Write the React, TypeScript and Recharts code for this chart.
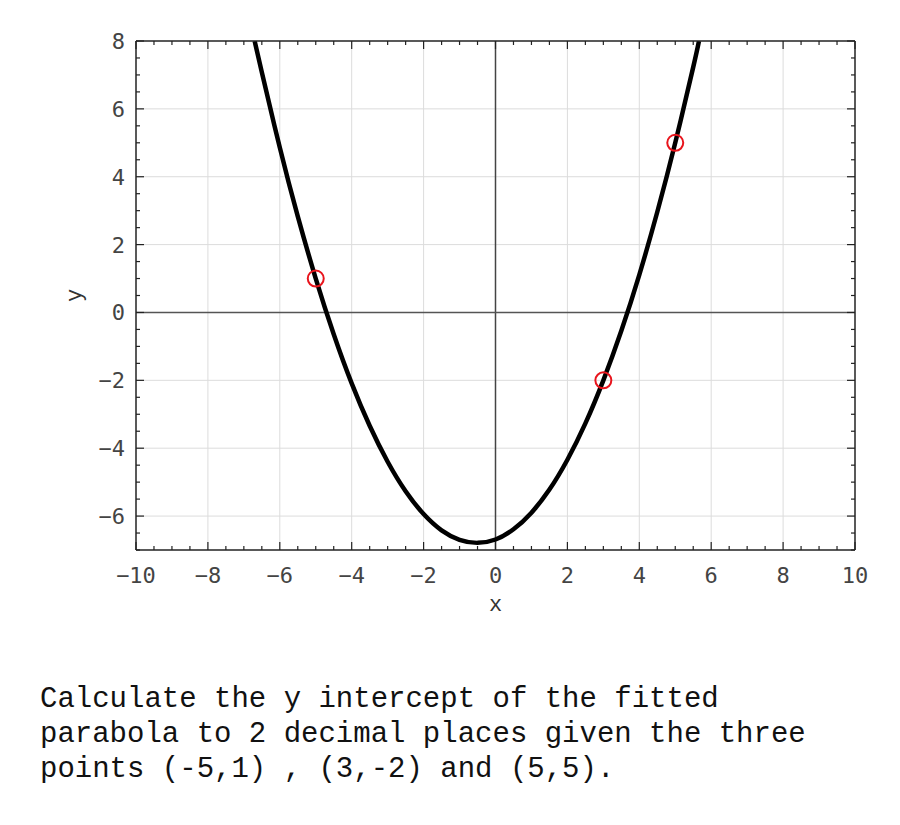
import React from 'react';
import { ComposedChart, Line, Scatter, XAxis, YAxis, ReferenceLine, Label } from 'recharts';

// Curve (x, y)
const curveX = [-6.7, -6.5, -6, -5.5, -5, -4.5, -4, -3.5, -3, -2.5, -2, -1.5, -1, -0.5, 0, 0.5, 1, 1.5, 2, 2.5, 3, 3.5, 4, 4.5, 5, 5.5, 5.66];
const curveY = [8.0, 7.08, 4.86, 2.83, 1.0, -0.64, -2.09, -3.34, -4.4, -5.27, -5.94, -6.42, -6.7, -6.79, -6.69, -6.39, -5.9, -5.22, -4.34, -3.27, -2.0, -0.54, 1.11, 2.96, 5.0, 7.23, 8.0];

// Marked points
const pointX = [-5, 3, 5];
const pointY = [1, -2, 5];

// Axis tick labels
const xMajor = [-10, -8, -6, -4, -2, 0, 2, 4, 6, 8, 10];
const yMajor = [-6, -4, -2, 0, 2, 4, 6, 8];
const xDomain: [number, number] = [-10, 10];
const yDomain: [number, number] = [-7, 8];

const curveData = curveX.map((x, i) => ({ x, y: curveY[i] }));
const pointData = pointX.map((x, i) => ({ x, y: pointY[i] }));

const xTicks: number[] = [];
for (let v = xDomain[0]; v <= xDomain[1] + 1e-9; v += 0.5) xTicks.push(v);
const yTicks: number[] = [];
for (let v = yDomain[0]; v <= yDomain[1] + 1e-9; v += 0.5) yTicks.push(v);

const isMajorX = (v: number) => xMajor.some((m) => Math.abs(m - v) < 1e-6);
const isMajorY = (v: number) => yMajor.some((m) => Math.abs(m - v) < 1e-6);
const fmt = (v: number) => (v < 0 ? '\u2212' + Math.abs(v) : String(v));

const TICK_COLOR = '#222';
const LABEL_FONT = '"DejaVu Sans Mono", monospace';
const TITLE_FONT = '"Liberation Mono", "Courier New", monospace';

const BottomTick = (props: any) => {
  const { x, y, payload } = props;
  const major = isMajorX(payload.value);
  return (
    <g>
      <line x1={x} x2={x} y1={y} y2={y - (major ? 8 : 4)} stroke={TICK_COLOR} strokeWidth={1.2} />
      {major && (
        <text x={x} y={y + 33} textAnchor="middle" fontFamily={LABEL_FONT} fontSize={22} fill="#444">
          {fmt(payload.value)}
        </text>
      )}
    </g>
  );
};

const TopTick = (props: any) => {
  const { x, y, payload } = props;
  const major = isMajorX(payload.value);
  return <line x1={x} x2={x} y1={y} y2={y + (major ? 8 : 4)} stroke={TICK_COLOR} strokeWidth={1.2} />;
};

const LeftTick = (props: any) => {
  const { x, y, payload } = props;
  const major = isMajorY(payload.value);
  return (
    <g>
      <line x1={x} x2={x + (major ? 8 : 4)} y1={y} y2={y} stroke={TICK_COLOR} strokeWidth={1.2} />
      {major && (
        <text x={x - 11} y={y + 8} textAnchor="end" fontFamily={LABEL_FONT} fontSize={22} fill="#444">
          {fmt(payload.value)}
        </text>
      )}
    </g>
  );
};

const RightTick = (props: any) => {
  const { x, y, payload } = props;
  const major = isMajorY(payload.value);
  return <line x1={x} x2={x - (major ? 8 : 4)} y1={y} y2={y} stroke={TICK_COLOR} strokeWidth={1.2} />;
};

const RingShape = (props: any) => {
  const { cx, cy } = props;
  return <circle cx={cx} cy={cy} r={8} fill="none" stroke="#e8141c" strokeWidth={2} />;
};

export default function App() {
  return (
    <div style={{ width: 884 }}>
      <ComposedChart
        width={884}
        height={620}
        data={curveData}
        margin={{ top: 32, right: 36, bottom: 18, left: 0 }}
      >
        <XAxis
          xAxisId={0}
          type="number"
          dataKey="x"
          domain={xDomain}
          ticks={xTicks}
          interval={0}
          tickSize={0}
          tickMargin={0}
          tick={<BottomTick />}
          tickLine={false}
          axisLine={{ stroke: TICK_COLOR, strokeWidth: 1.5 }}
          height={60}
          allowDataOverflow
        >
          <Label
            content={(p: any) => {
              const vb = p.viewBox || {};
              return (
                <text x={vb.x + vb.width / 2} y={vb.y + 61} textAnchor="middle" fontFamily={TITLE_FONT} fontSize={22} fill="#333">
                  x
                </text>
              );
            }}
          />
        </XAxis>
        <XAxis
          xAxisId="top"
          orientation="top"
          type="number"
          dataKey="x"
          domain={xDomain}
          ticks={xTicks}
          interval={0}
          tickSize={0}
          tickMargin={0}
          tick={<TopTick />}
          tickLine={false}
          axisLine={{ stroke: TICK_COLOR, strokeWidth: 1.5 }}
          height={1}
          allowDataOverflow
        />
        <YAxis
          yAxisId={0}
          type="number"
          domain={yDomain}
          ticks={yTicks}
          interval={0}
          tickSize={0}
          tickMargin={0}
          tick={<LeftTick />}
          tickLine={false}
          axisLine={{ stroke: TICK_COLOR, strokeWidth: 1.5 }}
          width={128}
          allowDataOverflow
        >
          <Label
            content={(p: any) => {
              const vb = p.viewBox || {};
              const cx = vb.x + 67;
              const cy = vb.y + vb.height / 2;
              return (
                <text x={cx} y={cy} transform={`rotate(-90 ${cx} ${cy})`} textAnchor="middle" dominantBaseline="central" fontFamily={TITLE_FONT} fontSize={22} fill="#333">
                  y
                </text>
              );
            }}
          />
        </YAxis>
        <YAxis
          yAxisId="right"
          orientation="right"
          type="number"
          domain={yDomain}
          ticks={yTicks}
          interval={0}
          tickSize={0}
          tickMargin={0}
          tick={<RightTick />}
          tickLine={false}
          axisLine={{ stroke: TICK_COLOR, strokeWidth: 1.5 }}
          width={1}
          allowDataOverflow
        />
        {xMajor.filter((v) => v !== 0 && v !== xDomain[0] && v !== xDomain[1]).map((v) => (
          <ReferenceLine key={'gx' + v} x={v} stroke="#dcdcdc" strokeWidth={1} />
        ))}
        {yMajor.filter((v) => v !== 0 && v !== yDomain[1]).map((v) => (
          <ReferenceLine key={'gy' + v} y={v} stroke="#dcdcdc" strokeWidth={1} />
        ))}
        <ReferenceLine x={0} stroke="#444" strokeWidth={1.5} />
        <ReferenceLine y={0} stroke="#555" strokeWidth={1.5} />
        <Scatter data={pointData} dataKey="y" shape={<RingShape />} isAnimationActive={false} />
        <Line
          type="natural"
          dataKey="y"
          stroke="#000"
          strokeWidth={4.5}
          dot={false}
          activeDot={false}
          isAnimationActive={false}
        />
      </ComposedChart>
      <div
        style={{
          marginTop: 54,
          marginLeft: 32,
          fontFamily: TITLE_FONT,
          fontSize: 29,
          lineHeight: '35px',
          color: '#111',
          whiteSpace: 'pre',
        }}
      >
        {'Calculate the y intercept of the fitted\nparabola to 2 decimal places given the three\npoints (-5,1) , (3,-2) and (5,5).'}
      </div>
    </div>
  );
}
